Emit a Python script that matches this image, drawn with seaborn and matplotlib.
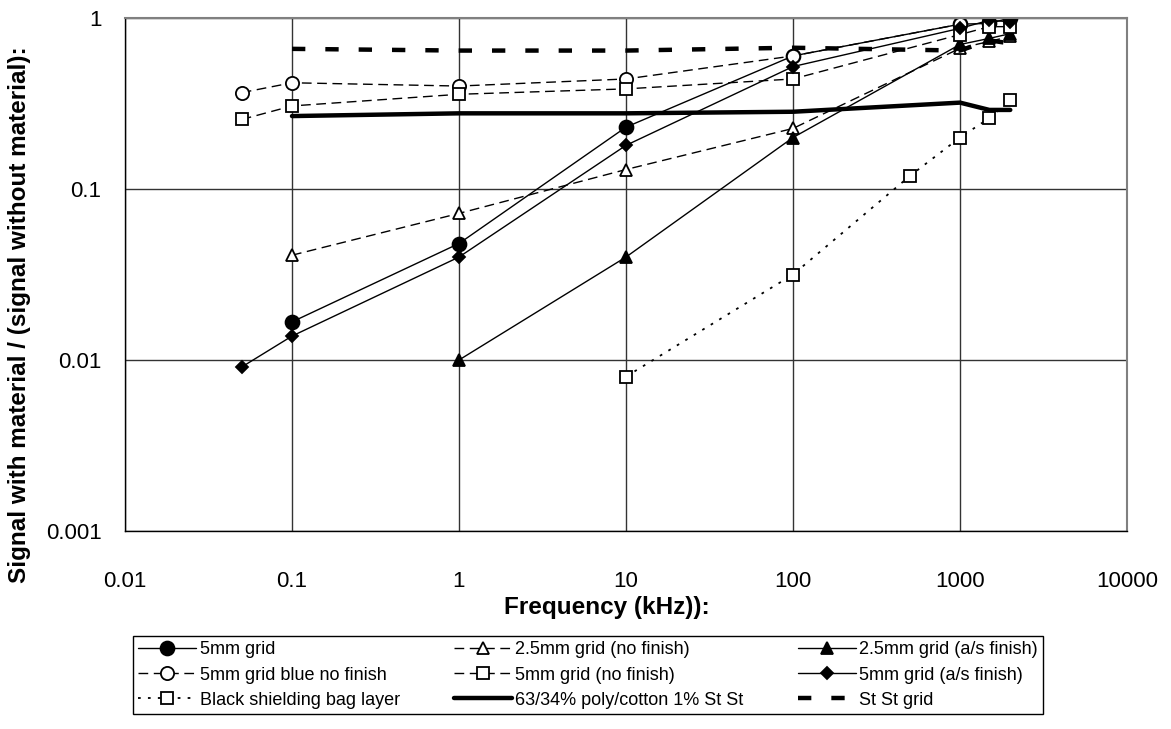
import matplotlib
matplotlib.use("Agg")
import matplotlib.pyplot as plt
import seaborn as sns
import numpy as np

# ---- data ----
freq_5mm = [0.1, 1, 10, 100, 1000, 1500, 2000]
val_5mm = [0.0167, 0.048, 0.23, 0.60, 0.92, 0.93, 1.0]

freq_25_nf = [0.1, 1, 10, 100, 1000, 1500, 2000]
val_25_nf = [0.041, 0.072, 0.13, 0.226, 0.665, 0.73, 0.78]

freq_25_as = [1, 10, 100, 1000, 1500, 2000]
val_25_as = [0.010, 0.040, 0.20, 0.70, 0.76, 0.81]

freq_blue = [0.05, 0.1, 1, 10, 100, 1000]
val_blue = [0.366, 0.418, 0.40, 0.44, 0.60, 0.92]

freq_5_nf = [0.05, 0.1, 1, 10, 100, 1000, 1500, 2000]
val_5_nf = [0.255, 0.306, 0.358, 0.385, 0.44, 0.80, 0.89, 0.89]

freq_5_as = [0.05, 0.1, 1, 10, 100, 1000, 1500, 2000]
val_5_as = [0.0091, 0.0138, 0.040, 0.18, 0.52, 0.87, 0.97, 0.95]

freq_bag = [10, 100, 500, 1000, 1500, 2000]
val_bag = [0.008, 0.0316, 0.119, 0.20, 0.26, 0.33]

freq_poly = [0.1, 1, 10, 100, 1000, 1500, 2000]
val_poly = [0.267, 0.277, 0.277, 0.283, 0.32, 0.29, 0.29]

freq_stst = [0.1, 1, 10, 100, 1000, 1500, 2000]
val_stst = [0.66, 0.645, 0.645, 0.67, 0.645, 0.74, 0.71]

labels = ["5mm grid", "2.5mm grid (no finish)", "2.5mm grid (a/s finish)",
          "5mm grid blue no finish", "5mm grid (no finish)", "5mm grid (a/s finish)",
          "Black shielding bag layer", "63/34% poly/cotton 1% St St", "St St grid"]

x_ticks = [0.01, 0.1, 1, 10, 100, 1000, 10000]
x_ticklabels = ["0.01", "0.1", "1", "10", "100", "1000", "10000"]
y_ticks = [0.001, 0.01, 0.1, 1]
y_ticklabels = ["0.001", "0.01", "0.1", "1"]

# ---- style ----
sns.set_style("white")
plt.rcParams['font.family'] = ['Liberation Sans', 'DejaVu Sans']
plt.rcParams['text.color'] = 'black'
plt.rcParams['axes.labelcolor'] = 'black'
plt.rcParams['xtick.color'] = 'black'
plt.rcParams['ytick.color'] = 'black'

fig = plt.figure(figsize=(11.71, 7.29), dpi=100)
ax = fig.add_axes([125/1171, 1 - 531/729, (1127-125)/1171, (531-18)/729])

dash_thin = (0, (7, 4))
series = [
    (freq_5mm, val_5mm, dict(linestyle='-', marker='o', markersize=10, markerfacecolor='black', lw=1.0)),
    (freq_25_nf, val_25_nf, dict(linestyle=dash_thin, marker='^', markersize=8.5, markerfacecolor='white', lw=1.0)),
    (freq_25_as, val_25_as, dict(linestyle='-', marker='^', markersize=8.5, markerfacecolor='black', lw=1.0)),
    (freq_blue, val_blue, dict(linestyle=dash_thin, marker='o', markersize=9.5, markerfacecolor='white', lw=1.0)),
    (freq_5_nf, val_5_nf, dict(linestyle=dash_thin, marker='s', markersize=9, markerfacecolor='white', lw=1.0)),
    (freq_5_as, val_5_as, dict(linestyle='-', marker='D', markersize=6.5, markerfacecolor='black', lw=1.0)),
    (freq_bag, val_bag, dict(linestyle=(0, (1.5, 4)), marker='s', markersize=9, markerfacecolor='white', lw=1.3)),
    (freq_poly, val_poly, dict(linestyle='-', marker='', lw=3.2)),
    (freq_stst, val_stst, dict(linestyle=(0, (3, 4.5)), marker='', lw=3.2)),
]

handles = []
for (fx, fy, kw), lab in zip(series, labels):
    sns.lineplot(x=fx, y=fy, ax=ax, color='black', estimator=None, sort=False,
                 markeredgecolor='black', markeredgewidth=1.3, label=lab, **kw)
    handles.append(ax.get_lines()[-1])

ax.set_xscale('log')
ax.set_yscale('log')
ax.set_xlim(0.01, 10000)
ax.set_ylim(0.001, 1)
ax.set_xticks(x_ticks)
ax.set_xticklabels(x_ticklabels)
ax.set_yticks(y_ticks)
ax.set_yticklabels(y_ticklabels)
ax.minorticks_off()

ax.grid(True, which='major', color='#333333', lw=1.0)
ax.set_axisbelow(True)
for s in ['left', 'bottom']:
    ax.spines[s].set_color('black')
    ax.spines[s].set_linewidth(1.0)
for s in ['top', 'right']:
    ax.spines[s].set_color('#808080')
    ax.spines[s].set_linewidth(1.5)

ax.tick_params(axis='both', which='major', direction='out', length=7, width=1,
               labelsize=16, color='black', labelcolor='black')
ax.tick_params(axis='x', pad=22)
ax.tick_params(axis='y', pad=10)

ax.set_xlabel("Frequency (kHz)):", fontsize=17.5, fontweight='bold', color='black')
ax.set_ylabel("Signal with material / (signal without material):", fontsize=17.5,
              fontweight='bold', color='black')
ax.xaxis.set_label_coords((607 - 125) / 1002, (531 - 596) / 513)
ax.yaxis.set_label_coords((31 - 125) / 1002, (531 - 315) / 513)

# legend in row order of the reference: reorder for column-wise filling
order = [0, 3, 6, 1, 4, 7, 2, 5, 8]
ax.legend([handles[i] for i in order], [labels[i] for i in order],
          ncol=3, loc='upper left', bbox_to_anchor=(133/1171, 1 - 636/729),
          bbox_transform=fig.transFigure, fontsize=13, frameon=True,
          fancybox=False, edgecolor='black', framealpha=1,
          handlelength=3.2, handletextpad=0.2, columnspacing=3.0,
          labelspacing=0.45, borderpad=0.3, borderaxespad=0)
leg = ax.get_legend()
leg.get_frame().set_linewidth(1.0)
for t in leg.get_texts():
    t.set_color('black')

fig.savefig("out.png", dpi=100)
